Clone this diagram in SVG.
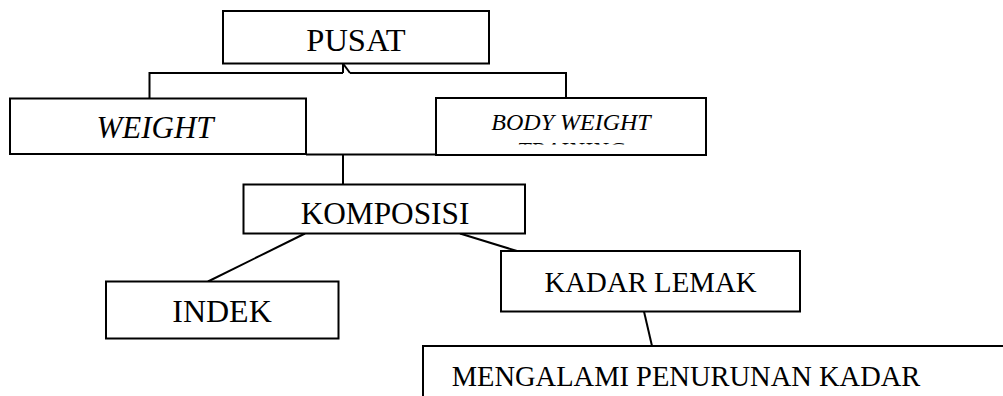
<svg xmlns="http://www.w3.org/2000/svg" width="1003" height="396" viewBox="0 0 1003 396">
<style>
.box{fill:#fff;stroke:#000;stroke-width:2}
.ln{fill:none;stroke:#000;stroke-width:2}
.t{font-family:"Liberation Serif","Times New Roman",serif;fill:#000;text-anchor:middle}
.i{font-style:italic}
</style>
<defs>
<clipPath id="clipKomp"><rect x="243" y="184" width="283" height="41"/></clipPath>
<clipPath id="clipBW"><rect x="436" y="98" width="270" height="46.5"/></clipPath>
</defs>
<rect width="1003" height="396" fill="#fff"/>
<g id="connectors">
<polyline class="ln" points="149.5,98.5 149.5,73 343,73"/>
<line class="ln" x1="343" y1="63.5" x2="343" y2="73"/>
<line class="ln" x1="343" y1="63.5" x2="350" y2="73"/>
<polyline class="ln" points="350,73 566,73 566,98"/>
<line class="ln" x1="306" y1="154.5" x2="436" y2="154.5"/>
<line class="ln" x1="343" y1="154.5" x2="343" y2="184.5"/>
<line class="ln" x1="305" y1="233.5" x2="208" y2="281.5"/>
<line class="ln" x1="460" y1="233.5" x2="517" y2="251"/>
<line class="ln" x1="644" y1="311.5" x2="652" y2="346"/>
</g>
<g id="pusat">
<rect class="box" x="223" y="11" width="266" height="52.5"/>
<text class="t" x="356" y="50.5" font-size="32.5">PUSAT</text>
</g>
<g id="weight">
<rect class="box" x="10" y="98.5" width="296" height="55.5"/>
<text class="t i" x="155" y="137.5" font-size="31">WEIGHT</text>
</g>
<g id="body-weight">
<rect class="box" x="436" y="98" width="270" height="57"/>
<g clip-path="url(#clipBW)">
<text class="t i" x="571" y="129.5" font-size="24">BODY WEIGHT</text>
<text class="t i" x="571" y="157.5" font-size="24">TRAINING</text>
</g>
</g>
<g id="komposisi">
<rect class="box" x="243.5" y="184.5" width="281.5" height="49"/>
<text class="t" x="385" y="224" font-size="31.3" clip-path="url(#clipKomp)">KOMPOSISI</text>
</g>
<g id="indek">
<rect class="box" x="106" y="281.5" width="232.5" height="57"/>
<text class="t" x="222" y="321.5" font-size="32">INDEK</text>
</g>
<g id="kadar-lemak">
<rect class="box" x="501" y="251" width="299" height="60.5"/>
<text class="t" x="650.5" y="291.5" font-size="28.8">KADAR LEMAK</text>
</g>
<g id="mengalami">
<rect class="box" x="423" y="346" width="600" height="70"/>
<text class="t" x="686" y="385.5" font-size="28.5">MENGALAMI PENURUNAN KADAR</text>
</g>
</svg>
